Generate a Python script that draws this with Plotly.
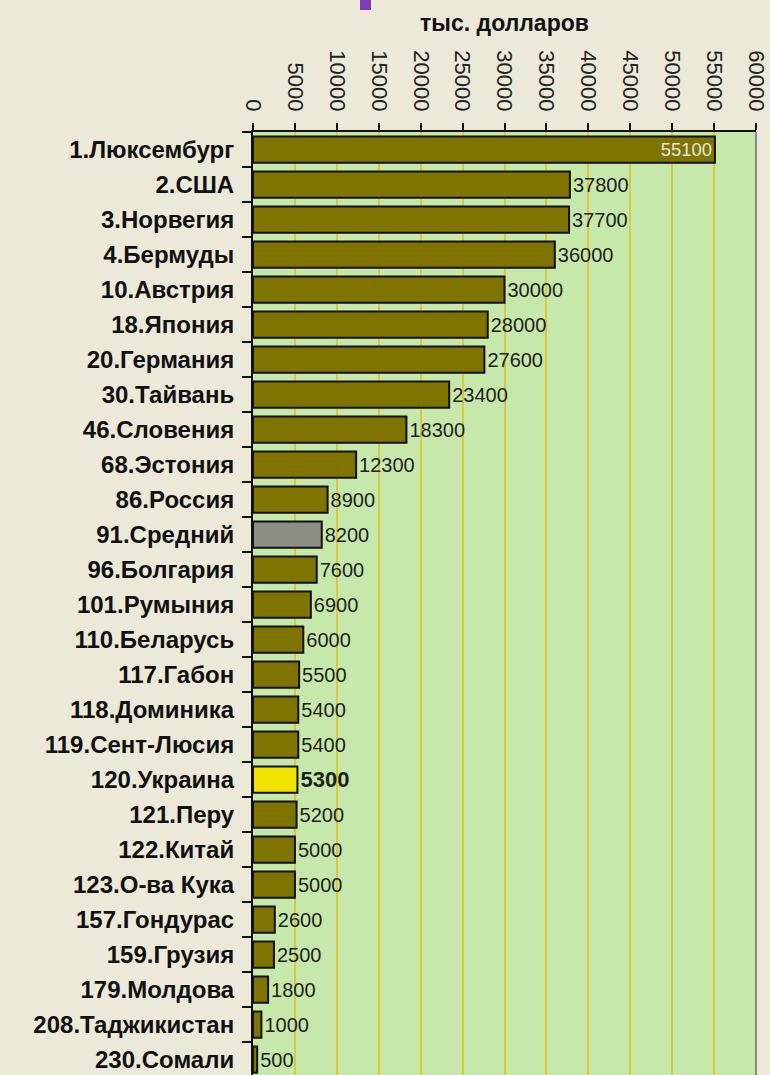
import plotly.graph_objects as go

categories = ["1.Люксембург", "2.США", "3.Норвегия", "4.Бермуды", "10.Австрия",
              "18.Япония", "20.Германия", "30.Тайвань", "46.Словения", "68.Эстония",
              "86.Россия", "91.Средний", "96.Болгария", "101.Румыния", "110.Беларусь",
              "117.Габон", "118.Доминика", "119.Сент-Люсия", "120.Украина", "121.Перу",
              "122.Китай", "123.О-ва Кука", "157.Гондурас", "159.Грузия", "179.Молдова",
              "208.Таджикистан", "230.Сомали"]
values = [55100, 37800, 37700, 36000, 30000, 28000, 27600, 23400, 18300, 12300,
          8900, 8200, 7600, 6900, 6000, 5500, 5400, 5400, 5300, 5200,
          5000, 5000, 2600, 2500, 1800, 1000, 500]
average_label = "91.Средний"
highlight_label = "120.Украина"
inside_label = "1.Люксембург"
x_title = "тыс. долларов"

OLIVE = "#7f7400"
GREY = "#8e8e84"
YELLOW = "#f2e400"
FONT = "Liberation Sans, Arial, sans-serif"

colors = []
texts = []
positions = []
tsizes = []
tcolors = []
for c, v in zip(categories, values):
    if c == average_label:
        colors.append(GREY)
    elif c == highlight_label:
        colors.append(YELLOW)
    else:
        colors.append(OLIVE)
    if c == highlight_label:
        texts.append(f"<b>{v}</b>")
        tsizes.append(22)
    else:
        texts.append(str(v))
        tsizes.append(20)
    if c == inside_label:
        positions.append("inside")
        tcolors.append("#e6e6da")
    else:
        positions.append("outside")
        tcolors.append("#1e1e1e")

fig = go.Figure(go.Bar(
    x=values, y=categories, orientation="h",
    marker=dict(color=colors, line=dict(color="#111111", width=2)),
    text=texts, textposition=positions, insidetextanchor="end",
    textfont=dict(family=FONT, size=tsizes, color=tcolors),
    cliponaxis=False, width=0.75,
))

W, H = 770, 1075
L, R, T, B = 253, 14, 132, 0
rows_visible = (H - T - B) / 35.0

fig.update_layout(
    width=W, height=H,
    margin=dict(l=L, r=R, t=T, b=B),
    paper_bgcolor="#ece9d8",
    plot_bgcolor="#c6e8aa",
    showlegend=False,
    title=dict(text=f"<b>{x_title}</b>", x=(L + (W - L - R) / 2) / W, xanchor="center",
               y=1 - 23 / H, yanchor="middle",
               font=dict(family=FONT, size=23, color="#111111")),
    xaxis=dict(side="top", range=[0, 60000], dtick=5000, tick0=0, tickformat="d",
               tickangle=90, showgrid=True, gridcolor="#dcc83c", gridwidth=2,
               showline=True, linecolor="#111111", linewidth=1.5,
               ticks="outside", ticklen=7, tickcolor="#111111", tickwidth=1.5,
               tickfont=dict(family=FONT, size=22, color="#222222"),
               ticklabelstandoff=4,
               zeroline=False, fixedrange=True),
    yaxis=dict(type="category", categoryorder="array", categoryarray=categories,
               range=[-0.5 + rows_visible, -0.5],
               showline=True, linecolor="#111111", linewidth=2,
               ticks="outside", ticklen=9, tickcolor="#111111", tickwidth=1.5,
               tickson="boundaries", ticklabelstandoff=12,
               tickfont=dict(family=FONT, size=24, color="#111111", weight="bold"),
               showgrid=False, zeroline=False, fixedrange=True),
    shapes=[
        dict(type="line", xref="paper", yref="paper", x0=1, x1=1, y0=0, y1=1,
             line=dict(color="#8a8a8a", width=2)),
        dict(type="rect", xref="paper", yref="paper",
             x0=(360 - L) / (W - L - R), x1=(371 - L) / (W - L - R),
             y0=(H - 10) / (H - T - B), y1=H / (H - T - B),
             fillcolor="#7a3db3", line=dict(width=0)),
    ],
)

fig.write_html("out.html", config={"displayModeBar": False},
               post_script="document.body.style.margin='0';document.body.style.overflow='hidden';")
